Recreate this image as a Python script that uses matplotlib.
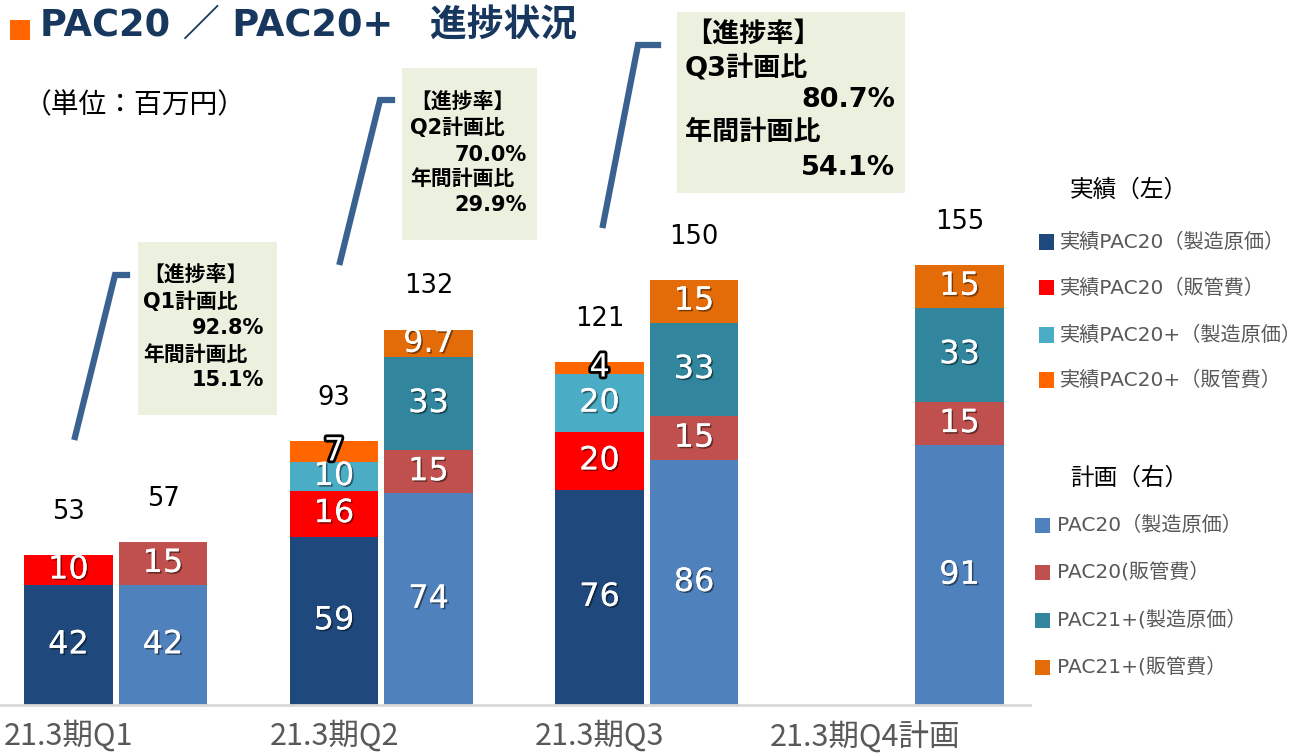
import matplotlib
matplotlib.use("Agg")
import matplotlib.pyplot as plt
import matplotlib.patheffects as pe
from matplotlib.patches import Rectangle
from matplotlib.lines import Line2D
import numpy as np

plt.rcParams['font.family'] = ['DejaVu Sans', 'Noto Sans CJK JP']

# ---------------- data ----------------
categories = ['21.3期Q1', '21.3期Q2', '21.3期Q3', '21.3期Q4計画']

# actual (left bar in each group) – Q1..Q3
act_pac20_cost = [42.3, 59.3, 75.8]
act_pac20_sga = [10.5, 16.2, 20.3]
act_pac20p_cost = [0.0, 9.9, 20.4]
act_pac20p_sga = [0.0, 7.4, 4.3]
act_labels = [['42', '59', '76'], ['10', '16', '20'], ['', '10', '20'], ['', '7', '4']]
act_totals = ['53', '93', '121']

# plan (right bar in each group) – Q1..Q4
plan_pac20_cost = [42.4, 74.5, 86.3, 91.4]
plan_pac20_sga = [14.9, 15.3, 15.3, 15.4]
plan_pac21p_cost = [0.0, 32.7, 33.0, 33.1]
plan_pac21p_sga = [0.0, 9.7, 15.2, 15.1]
plan_labels = [['42', '74', '86', '91'], ['15', '15', '15', '15'],
               ['', '33', '33', '33'], ['', '9.7', '15', '15']]
plan_totals = ['57', '132', '150', '155']

act_names = ['実績PAC20（製造原価）', '実績PAC20（販管費）', '実績PAC20+（製造原価）', '実績PAC20+（販管費）']
plan_names = ['PAC20（製造原価）', 'PAC20(販管費）', 'PAC21+(製造原価）', 'PAC21+(販管費）']
act_colors = ['#1F497D', '#FF0000', '#4BACC6', '#FF6600']
plan_colors = ['#4F81BD', '#C0504D', '#31859C', '#E36C09']

progress = [
    ('Q1計画比', '92.8%', '15.1%'),
    ('Q2計画比', '70.0%', '29.9%'),
    ('Q3計画比', '80.7%', '54.1%'),
]

# ---------------- figure ----------------
W, H = 1305, 756
fig = plt.figure(figsize=(W / 100, H / 100), dpi=100)


def fx(x):
    return x / W


def fy(y):
    return 1 - y / H


ax = fig.add_axes([0, 51 / H, 1030 / W, 705 / H])
ax.set_xlim(-0.258, 3.621)
ax.set_ylim(0, 705 / 2.84)
for s in ['top', 'right', 'left']:
    ax.spines[s].set_visible(False)
ax.spines['bottom'].set_color('#D9D9D9')
ax.spines['bottom'].set_linewidth(2)
ax.set_yticks([])

x = np.arange(len(categories))
w = 0.333
off = 0.356

white_fx = [pe.withSimplePatchShadow(offset=(1.2, -1.2), shadow_rgbFace='black', alpha=0.45), pe.Normal()]
outline_fx = [pe.withStroke(linewidth=4, foreground='black')]


def draw_stack(xpos, series, colors, labels, totals):
    bottom = np.zeros(len(xpos))
    for vals, col, labs in zip(series, colors, labels):
        vals = np.array(vals)
        ax.bar(xpos, vals, w, bottom=bottom, color=col, linewidth=0)
        for xi, b, v, lab in zip(xpos, bottom, vals, labs):
            if lab:
                if v < 8 and lab in ('7', '4'):
                    ax.text(xi, b + v / 2, lab, ha='center', va='center', fontsize=23,
                            color='white', path_effects=outline_fx)
                else:
                    ax.text(xi, b + v / 2, lab, ha='center', va='center', fontsize=23,
                            color='white', path_effects=white_fx)
        bottom = bottom + vals
    for xi, tot, lab in zip(xpos, bottom, totals):
        ax.annotate(lab, (xi, tot), xytext=(0, 31), textcoords='offset points',
                    ha='center', va='center', fontsize=18.5, color='black')


draw_stack(x[:3], [act_pac20_cost, act_pac20_sga, act_pac20p_cost, act_pac20p_sga],
           act_colors, act_labels, act_totals)
draw_stack(x + off, [plan_pac20_cost, plan_pac20_sga, plan_pac21p_cost, plan_pac21p_sga],
           plan_colors, plan_labels, plan_totals)

ax.set_xticks(x)
ax.set_xticklabels(categories, fontsize=22, color='#595959', family=['Noto Sans CJK JP'])
ax.tick_params(axis='x', length=0, pad=11)

# ---------------- title ----------------
fig.add_artist(Rectangle((fx(10), fy(40)), 20 / W, 20 / H, transform=fig.transFigure,
                         color='#FF6600', lw=0))
fig.text(fx(40), fy(26), 'PAC20 ／ PAC20+　進捗状況', fontsize=26.5, fontweight='bold',
         color='#17375E', ha='left', va='center')
fig.text(fx(24), fy(105), '（単位：百万円）', fontsize=20, color='black',
         family=['Noto Sans CJK JP'], ha='left', va='center')

# ---------------- callouts ----------------
boxes = [
    dict(rect=(138, 242, 277, 415), line=[(75, 437), (115, 275), (127, 275)], fs=15,
         lx=143, rx=264, ys=[275, 302, 328, 355, 380]),
    dict(rect=(402, 68, 537, 240), line=[(340, 262), (380, 100), (392, 100)], fs=15,
         lx=410, rx=527, ys=[102, 128, 155, 179, 205]),
    dict(rect=(677, 12, 905, 193), line=[(603, 225), (638, 45), (658, 45)], fs=19.5,
         lx=685, rx=895, ys=[35, 68, 100, 133, 168]),
]
for b, (lbl, p1, p2) in zip(boxes, progress):
    x0, y0, x1, y1 = b['rect']
    fig.add_artist(Rectangle((fx(x0), fy(y1)), (x1 - x0) / W, (y1 - y0) / H,
                             transform=fig.transFigure, color='#EBF1DE', lw=0))
    xs = [fx(p[0]) for p in b['line']]
    ys = [fy(p[1]) for p in b['line']]
    fig.add_artist(Line2D(xs, ys, transform=fig.transFigure, color='#3A6290', lw=4.5,
                          solid_joinstyle='miter'))
    fs = b['fs']
    yy = b['ys']
    fig.text(fx(b['lx']), fy(yy[0]), '【進捗率】', fontsize=fs, fontweight='bold', ha='left', va='center')
    fig.text(fx(b['lx']), fy(yy[1]), lbl, fontsize=fs, fontweight='bold', ha='left', va='center')
    fig.text(fx(b['rx']), fy(yy[2]), p1, fontsize=fs, fontweight='bold', ha='right', va='center')
    fig.text(fx(b['lx']), fy(yy[3]), '年間計画比', fontsize=fs, fontweight='bold', ha='left', va='center')
    fig.text(fx(b['rx']), fy(yy[4]), p2, fontsize=fs, fontweight='bold', ha='right', va='center')

# ---------------- legend ----------------
fig.text(fx(1070), fy(190), '実績（左）', fontsize=17, color='black', ha='left', va='center')
for name, col, yc in zip(act_names, act_colors, [242, 288, 335, 380]):
    fig.add_artist(Rectangle((fx(1039), fy(yc + 7.5)), 15 / W, 15 / H,
                             transform=fig.transFigure, color=col, lw=0))
    fig.text(fx(1060), fy(yc), name, fontsize=14.5, color='#595959', ha='left', va='center')

fig.text(fx(1070), fy(478), '計画（右）', fontsize=17, color='black', ha='left', va='center')
for name, col, yc in zip(plan_names, plan_colors, [525, 572, 620, 667]):
    fig.add_artist(Rectangle((fx(1035), fy(yc + 7.5)), 15 / W, 15 / H,
                             transform=fig.transFigure, color=col, lw=0))
    fig.text(fx(1057), fy(yc), name, fontsize=14.5, color='#595959', ha='left', va='center')

fig.savefig('out.png', dpi=100)
